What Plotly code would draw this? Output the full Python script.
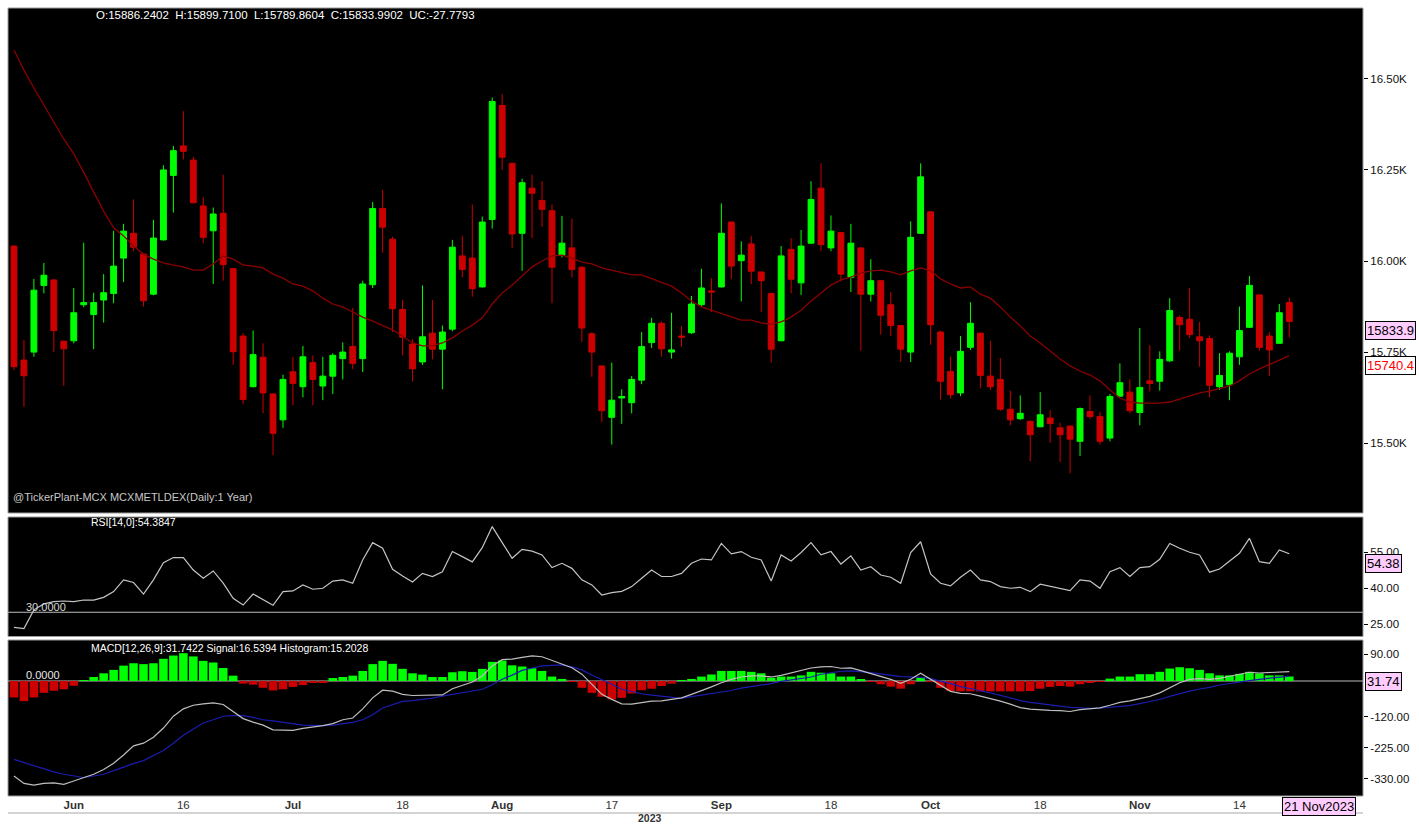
import plotly.graph_objects as go

# ---------------- data ----------------
opens = [16041,15728,15750,15933,15948,15780,15781,15880,15853,15893,15911,16008,16076,16019,15909,16058,16235,16316,16277,16151,
         16083,16131,15979,15794,15655,15736,15635,15564,15696,15655,15721,15657,15684,15732,15765,15732,15935,16144,16060,15867,
         15772,15723,15802,15758,15813,16014,16008,15929,16114,16427,16268,16076,16200,16166,16138,16016,16036,15983,15800,15712,
         15571,15624,15611,15673,15776,15829,15750,15794,15803,15880,15918,15929,16107,16001,16047,15970,15911,15781,16032,15940,
         16049,16200,16036,16078,15955,16036,15909,15946,15880,15823,15750,16076,16135,15805,15697,15638,15763,15802,15684,15675,
         15593,15567,15560,15545,15569,15542,15547,15505,15587,15573,15514,15629,15640,15584,15671,15670,15726,15845,15840,15792,
         15787,15655,15660,15737,15818,15907,15794,15774,15886.24]
highs = [16043,15783,15951,15995,15950,15782,15926,16050,15913,15964,16083,16102,16169,16020,16113,16263,16316,16411,16286,16175,
         16147,16237,15980,15802,15809,15774,15637,15688,15737,15767,15741,15737,15747,15777,15871,15946,16162,16195,16067,15893,
         15785,15933,15893,15823,16058,16069,16155,16122,16449,16458,16270,16226,16237,16219,16155,16124,16116,15985,15805,15713,
         15721,15648,15684,15805,15844,15834,15858,15822,15904,15979,15953,16158,16108,16054,16069,15970,15912,16041,16063,16085,
         16219,16268,16125,16080,16102,16037,16005,15947,15915,15824,16109,16268,16136,15809,15737,15794,15887,15803,15781,15734,
         15644,15631,15562,15640,15591,15556,15548,15598,15631,15586,15635,15719,15675,15816,15769,15752,15898,15851,15926,15833,
         15796,15747,15752,15875,15959,15908,15805,15882,15899.71]
lows = [15701,15600,15737,15911,15750,15657,15774,15873,15758,15831,15884,15942,16027,15875,15906,16056,16133,16279,16158,16049,
        15937,15946,15715,15607,15653,15582,15467,15542,15604,15626,15604,15618,15635,15675,15703,15695,15926,16023,15805,15741,
        15670,15715,15730,15648,15807,15955,15902,15927,16089,16250,16036,15973,16063,16094,15884,16010,15955,15778,15682,15558,
        15496,15553,15582,15662,15761,15737,15732,15765,15800,15875,15860,15927,15951,15889,15937,15860,15721,15780,15911,15907,
        16047,16027,16027,15944,15915,15754,15889,15798,15794,15723,15723,16074,15770,15620,15622,15629,15756,15651,15646,15589,
        15549,15564,15450,15544,15501,15448,15417,15465,15567,15496,15505,15628,15582,15549,15642,15644,15723,15754,15789,15710,
        15626,15646,15618,15715,15816,15754,15684,15773,15789.86]
closes = [15710,15685,15920,15961,15809,15759,15858,15886,15886,15913,15986,16082,16038,15891,16063,16250,16303,16301,16160,16065,
          16129,15990,15751,15620,15743,15638,15527,15675,15664,15737,15675,15684,15741,15750,15719,15937,16144,16093,15869,15791,
          15704,15792,15758,15805,16038,15977,15924,16107,16438,16285,16074,16215,16186,16142,15983,16049,15977,15816,15750,15589,
          15618,15628,15675,15765,15829,15759,15756,15791,15882,15926,15915,16076,15986,16016,15972,15946,15758,16014,15950,16041,
          16169,16045,16082,15964,16049,15909,15946,15851,15823,15758,16065,16231,15825,15670,15633,15752,15829,15686,15655,15593,
          15564,15582,15523,15578,15554,15523,15511,15595,15573,15505,15628,15666,15589,15653,15664,15730,15864,15825,15798,15781,
          15659,15686,15747,15809,15933,15763,15756,15858,15833.99]
ma_line = [16579,16524,16475,16428,16382,16335,16294,16244,16189,16137,16091,16069,16041,16019,16005,15995,15989,15984,15975,15975,
           15992,16014,16005,15989,15986,15981,15964,15953,15937,15931,15918,15898,15882,15874,15860,15846,15835,15824,15811,15794,
           15775,15767,15767,15775,15789,15808,15824,15844,15882,15912,15934,15959,15984,16000,16014,16016,16008,15997,15992,15981,
           15975,15970,15962,15962,15951,15942,15931,15912,15890,15874,15865,15854,15846,15838,15838,15830,15827,15833,15846,15865,
           15890,15912,15934,15948,15956,15967,15973,15975,15970,15962,15973,15981,15973,15951,15937,15926,15929,15909,15898,15874,
           15846,15822,15794,15775,15753,15731,15712,15698,15687,15671,15646,15624,15613,15610,15610,15610,15613,15621,15629,15638,
           15643,15649,15657,15671,15690,15704,15717,15728,15740.4]
rsi = [23.7,23.2,31.0,33.5,34.4,34.7,34.4,35.1,35.1,36.2,38.6,43.5,42.4,37.6,43.5,50.7,52.8,52.8,47.6,44.2,
       47.2,42.1,35.8,33.0,37.6,35.4,32.9,38.6,38.9,41.4,39.6,40.0,43.0,43.5,42.1,51.8,59.0,56.7,47.9,45.1,
       42.6,46.2,44.9,46.9,55.3,53.2,51.0,56.9,65.7,59.0,52.5,56.2,55.5,53.9,48.6,50.4,48.3,43.5,41.4,37.2,
       38.2,38.7,40.7,44.2,47.6,44.9,44.9,46.2,50.4,52.2,51.8,58.7,54.3,55.3,52.9,51.8,43.0,53.9,51.4,54.9,
       59.0,53.9,55.3,50.1,53.5,47.6,49.0,45.5,44.6,42.1,54.9,59.4,46.0,42.1,41.0,44.6,47.6,43.5,42.8,40.7,
       40.0,40.4,38.6,41.7,40.7,39.7,39.0,43.5,43.0,40.0,46.9,48.6,44.9,48.6,49.0,52.1,58.7,56.7,55.0,53.9,
       46.7,48.0,51.4,54.6,60.8,51.1,50.4,56.0,54.38]
macd = [-321,-346,-352,-346,-344,-349,-338,-327,-315,-299,-278,-250,-219,-210,-190,-159,-119,-94,-82,-77,
        -74,-79.5,-102,-127,-139,-149,-165,-167,-167,-160,-156,-151,-144,-131,-125,-94,-57,-31,-34,-45,
        -49,-48,-49,-47,-26,-15,-3.4,17,51,72,74,79.5,85,82,70,59,45,23,-12.5,-45,
        -62,-77,-78,-74,-68,-67,-62,-57,-45,-33,-20,-5.7,5.7,13.6,17,17,13.6,19,28,37.5,
        44,47.7,49,43,44,35,26,17,5.7,-8,5.7,26,5.7,-15,-35,-42,-43,-51,-59,-68,
        -78,-90,-95,-98,-99,-100,-103,-97,-93,-91,-82,-72,-67,-60,-52,-40,-24,-5.7,5.7,8,
        5.7,9,16,23,29.5,27,28,30.7,31.74]
signal = [-265,-276,-287,-298,-307,-315,-321,-326,-321,-315,-303,-290,-279,-269,-253,-235,-210,-183,-162,-142,
          -131,-119,-117,-117,-123,-131,-135,-140,-144,-149,-150,-151,-149,-144,-140,-131,-114,-91,-79.5,-69,
          -66,-62,-58,-51,-45,-37.5,-33,-28,-12.5,5.7,20,36,44,51,53,54.5,47.7,37.5,20,5.7,
          -11,-28,-36,-43,-48,-51,-54.5,-59,-53,-48,-42,-37.5,-32,-24,-19,-13.6,-9,-1,3.4,9,
          13.6,22.7,28,33,34,32,28,24,19,15,13.6,12.5,8,0,-9,-19,-25,-33,-40,-49,
          -57,-66,-72,-77,-82,-85,-89,-91,-92,-92,-90,-86,-83,-76,-70,-62.5,-52,-42,-34,-27,
          -21.6,-13.6,-8,-2.3,1,5.7,10,14.8,16.54]
hist = [-55.6,-68,-55.6,-40,-33,-28,-16,2,13.6,26,37.5,52,60,57,60,75,86,94,83,68,
        62.5,44,18,-9,-12.5,-23,-32,-28,-20,-14,-6,-4.5,10,13.6,18,34,57,68,58,41,
        26,21.6,13.6,13.6,29.5,33,30.7,41,64.7,69,53,49,43,34,15,7,-3.4,-23,-40,-53,
        -62,-57,-42,-31,-26,-17,-9,2,7,15,22,34,34,34,31,26,11,15,15,19,
        31,28,26,15,15,4.5,-3.4,-11,-19,-26,-11,12.5,-3.4,-23,-34,-35,-35,-35,-35,-35,
        -35,-35,-34,-26,-20,-17,-19,-11,-4,-2,8,15,15,23,23,31,42,46.5,43,37.5,
        26,19,19,24,31,26,19,19,15.2]

tick_idx = [6, 17, 28, 39, 49, 60, 71, 82, 92, 103, 113, 123]
tick_text = ["<b>Jun</b>", "16", "<b>Jul</b>", "18", "<b>Aug</b>", "17", "<b>Sep</b>", "18",
             "<b>Oct</b>", "18", "<b>Nov</b>", "14"]
price_ticks = [15500, 15750, 16000, 16250, 16500]
price_tick_text = ["15.50K", "15.75K", "16.00K", "16.25K", "16.50K"]
rsi_ticks = [25, 40, 55]
rsi_tick_text = ["25.00", "40.00", "55.00"]
macd_ticks = [-330, -225, -120, 90]
macd_tick_text = ["-330.00", "-225.00", "-120.00", "90.00"]

idx = list(range(len(closes)))

# ---------------- styling / geometry ----------------
W, H = 1419, 824
ML, MR, MT, MB = 8, 56, 8, 28
GREEN, RED = "#00FF00", "#CC0000"
PINK = "#FFCCFF"
FONT = "Liberation Sans, Arial, sans-serif"


def px_x(px):
    return (px - ML) / (W - ML - MR)


def px_y(py):
    return (H - MB - py) / (H - MT - MB)


dom_price = [px_y(513), 1.0]
dom_rsi = [px_y(636.5), px_y(517)]
dom_macd = [0.0, px_y(640)]

fig = go.Figure()

fig.add_trace(go.Candlestick(
    x=idx, open=opens, high=highs, low=lows, close=closes,
    increasing=dict(line=dict(color=GREEN, width=1), fillcolor=GREEN),
    decreasing=dict(line=dict(color=RED, width=1), fillcolor=RED),
    whiskerwidth=0, xaxis="x", yaxis="y", showlegend=False, hoverinfo="skip"))

fig.add_trace(go.Scatter(x=idx, y=ma_line, mode="lines", line=dict(color="#8B0000", width=1.3),
                         xaxis="x", yaxis="y", showlegend=False, hoverinfo="skip"))

fig.add_trace(go.Scatter(x=idx, y=rsi, mode="lines", line=dict(color="#C4C4C4", width=1.2),
                         xaxis="x", yaxis="y2", showlegend=False, hoverinfo="skip"))

fig.add_trace(go.Bar(x=idx, y=hist, width=0.86,
                     marker=dict(color=[GREEN if v >= 0 else RED for v in hist], line=dict(width=0)),
                     xaxis="x", yaxis="y3", showlegend=False, hoverinfo="skip"))
fig.add_trace(go.Scatter(x=idx, y=signal, mode="lines", line=dict(color="#1C1CB0", width=1.2),
                         xaxis="x", yaxis="y3", showlegend=False, hoverinfo="skip"))
fig.add_trace(go.Scatter(x=idx, y=macd, mode="lines", line=dict(color="#BEBEBE", width=1.2),
                         xaxis="x", yaxis="y3", showlegend=False, hoverinfo="skip"))

axis_font = dict(family=FONT, size=11.5, color="#111111")
common_y = dict(side="right", anchor="x", showgrid=False, zeroline=False, ticks="outside",
                ticklen=4, tickcolor="#000000", tickfont=axis_font, showline=False, fixedrange=True)

fig.update_layout(
    width=W, height=H,
    margin=dict(l=ML, r=MR, t=MT, b=MB, pad=0),
    paper_bgcolor="#FFFFFF", plot_bgcolor="#000000",
    boxgap=0.16, bargap=0.1,
    showlegend=False,
    font=dict(family=FONT, size=11, color="#111111"),
    xaxis=dict(domain=[0, 1], range=[-0.6, 135.4], anchor="y3", showgrid=False, zeroline=False,
               tickmode="array", tickvals=tick_idx, ticktext=tick_text, ticks="",
               tickfont=dict(family=FONT, size=11.5, color="#333333"),
               rangeslider=dict(visible=False), showline=False, fixedrange=True),
    yaxis=dict(domain=dom_price, range=[15308.3, 16694.5], tickmode="array",
               tickvals=price_ticks, ticktext=price_tick_text, **common_y),
    yaxis2=dict(domain=dom_rsi, range=[19.9, 69.7], tickmode="array",
                tickvals=rsi_ticks, ticktext=rsi_tick_text, **common_y),
    yaxis3=dict(domain=dom_macd, range=[-388.5, 138.5], tickmode="array",
                tickvals=macd_ticks, ticktext=macd_tick_text, **common_y),
)

shapes = []
shapes.append(dict(type="line", xref="paper", yref="y2", x0=0, x1=1, y0=30, y1=30,
                   line=dict(color="#BDBDBD", width=1), layer="below"))
shapes.append(dict(type="line", xref="paper", yref="y3", x0=0, x1=1, y0=0, y1=0,
                   line=dict(color="#BDBDBD", width=1), layer="below"))
for d in (dom_price, dom_rsi, dom_macd):
    shapes.append(dict(type="rect", xref="paper", yref="paper", x0=0, x1=1, y0=d[0], y1=d[1],
                       line=dict(color="#9A9A9A", width=1), fillcolor="rgba(0,0,0,0)", layer="above"))
shapes.append(dict(type="line", xref="paper", yref="paper", x0=0, x1=1, y0=px_y(813), y1=px_y(813),
                   line=dict(color="#A8A8A8", width=1)))
fig.update_layout(shapes=shapes)

NB = "\u00a0\u00a0"
ann = []


def text_ann(txt, px, py, size=11, color="#FFFFFF", anchor="left", bold=False):
    ann.append(dict(text=("<b>%s</b>" % txt) if bold else txt, xref="paper", yref="paper",
                    x=px_x(px), y=px_y(py), xanchor=anchor, yanchor="middle", showarrow=False,
                    font=dict(family=FONT, size=size, color=color)))


text_ann("O:15886.2402" + NB + "H:15899.7100" + NB + "L:15789.8604" + NB + "C:15833.9902" + NB + "UC:-27.7793",
         94, 15, size=11.5)
text_ann("@TickerPlant-MCX MCXMETLDEX(Daily:1 Year)", 11, 497, size=11, color="#C8C8C8")
text_ann("RSI[14,0]:54.3847", 89, 522, size=10.5)
text_ann("30.0000", 24, 607, size=11, color="#D8D8D8")
text_ann("MACD[12,26,9]:31.7422 Signal:16.5394 Histogram:15.2028", 89, 648, size=10.5)
text_ann("0.0000", 24, 675, size=11, color="#E8E8E8")
text_ann("2023", 650, 818, size=10.5, color="#333333", anchor="center", bold=True)


def box_ann(txt, yref, yval, bg, fg):
    ann.append(dict(text=txt, xref="paper", yref=yref, x=1, y=yval, xanchor="left", yanchor="top",
                    xshift=2, showarrow=False, bgcolor=bg, bordercolor="#000000", borderwidth=1,
                    borderpad=1, font=dict(family=FONT, size=13, color=fg)))


box_ann("15833.9", "y", closes[-1], PINK, "#000000")
box_ann("15740.4", "y", ma_line[-1], "#FFFFFF", "#FF0000")
box_ann("54.38", "y2", rsi[-1], PINK, "#000000")
box_ann("31.74", "y3", macd[-1], PINK, "#000000")
ann.append(dict(text="21 Nov2023", xref="paper", yref="paper", x=px_x(1282), y=px_y(797),
                xanchor="left", yanchor="top", showarrow=False, bgcolor=PINK,
                bordercolor="#000000", borderwidth=1, borderpad=1,
                font=dict(family=FONT, size=13, color="#000000")))
fig.update_layout(annotations=ann)

fig.write_html("out.html", config={"displayModeBar": False},
               post_script="document.body.style.margin='0px';document.body.style.padding='0px';")
